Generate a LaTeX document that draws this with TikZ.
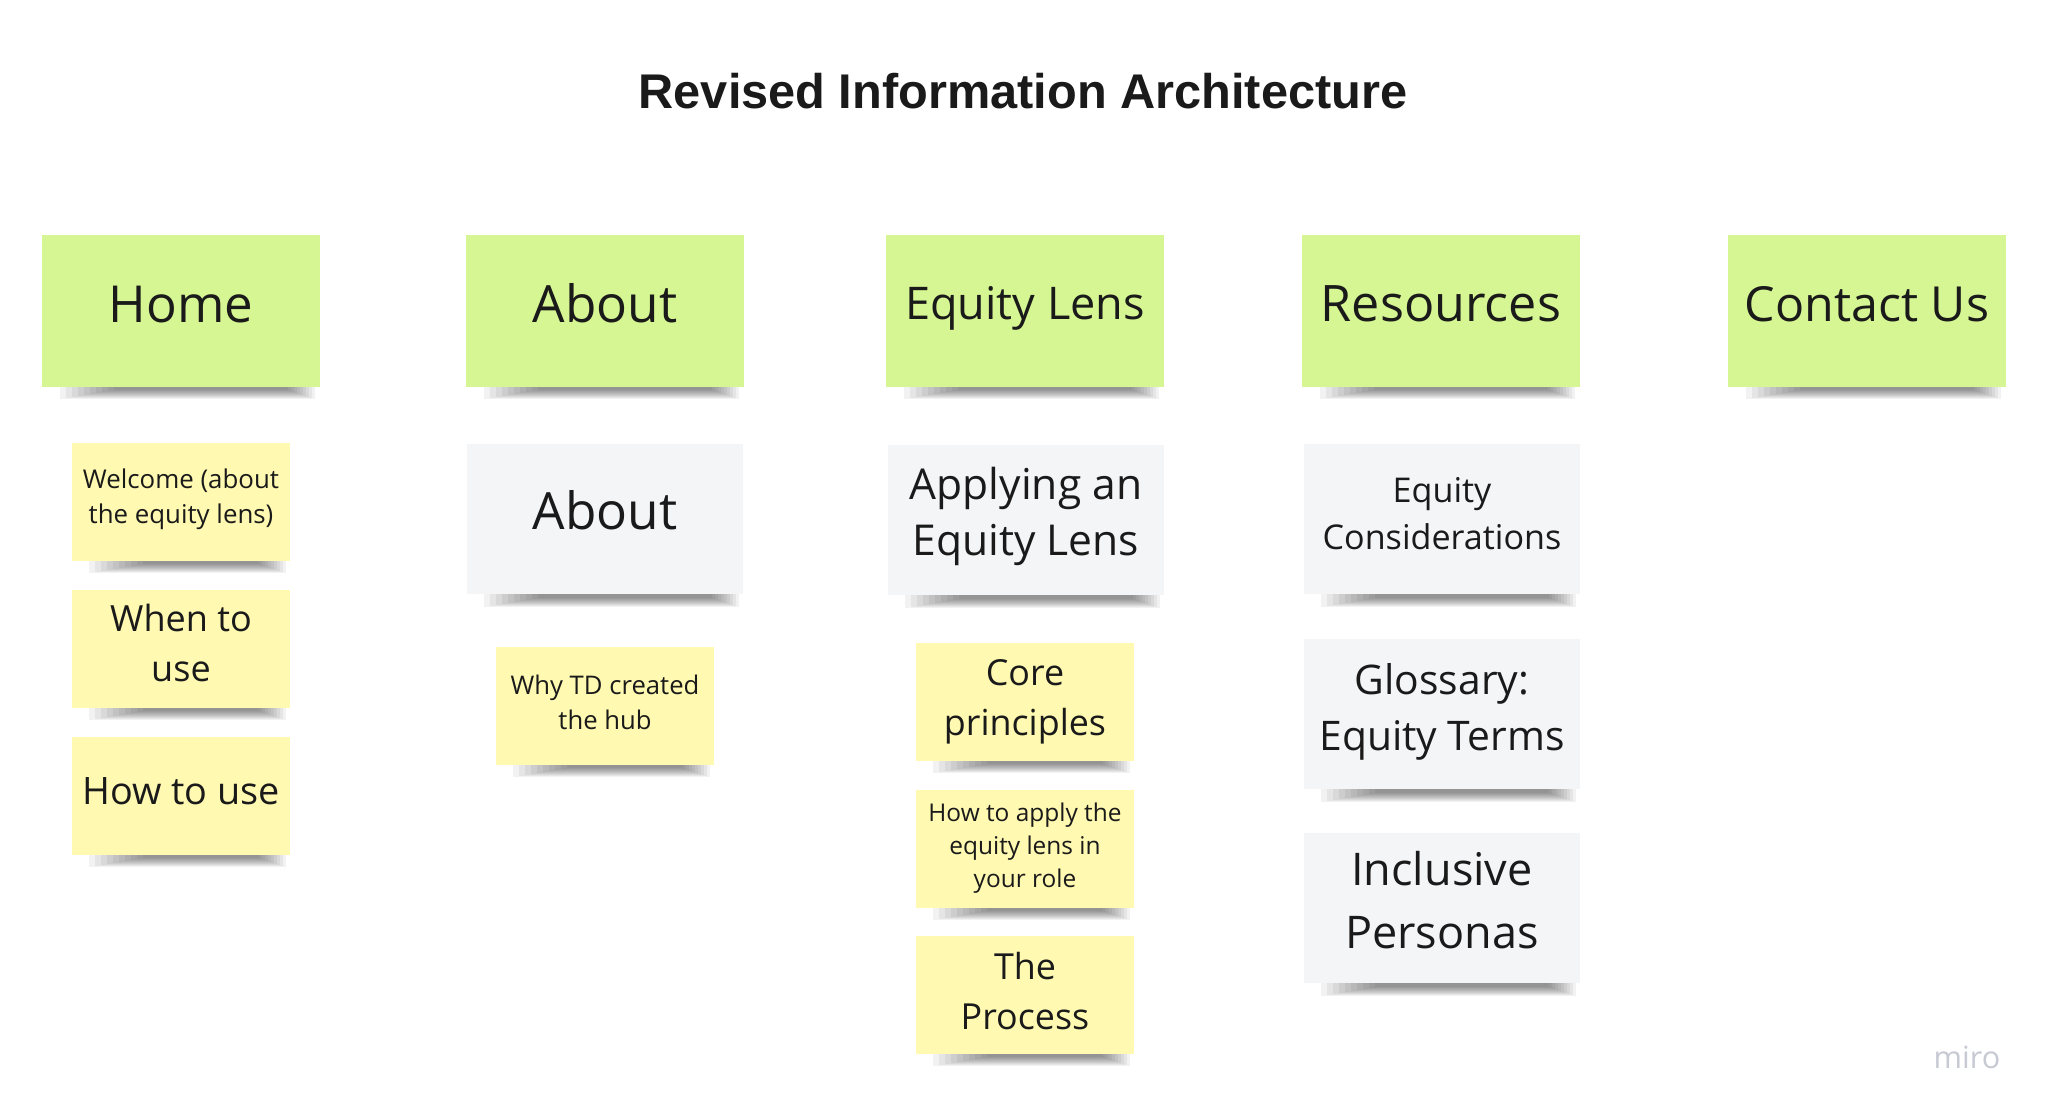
\documentclass[tikz,border=0pt]{standalone}
\usepackage{fontspec}
\setmainfont{Open Sans}
\newfontfamily\titlefont{Liberation Sans}
\usetikzlibrary{calc,backgrounds}
\definecolor{stickygreen}{HTML}{D5F692}
\definecolor{stickyyellow}{HTML}{FFF9B1}
\definecolor{stickygrey}{HTML}{F4F5F7}
\definecolor{ink}{HTML}{1A1A1A}
\definecolor{mirogrey}{HTML}{C7C9D3}
\newcommand\fsz[2]{\fontsize{#1}{#2}\selectfont}

\begin{document}
\begin{tikzpicture}[
    x=0.01cm, y=-0.01cm,
    headbox/.style={rectangle, fill=stickygreen, text=ink, align=center, inner sep=0pt, text depth=4pt, minimum width=2.77cm, minimum height=1.51cm},
    pagebox/.style={rectangle, fill=stickygrey, text=ink, align=center, inner sep=0pt, minimum width=2.76cm, minimum height=1.50cm},
    subbox/.style={rectangle, fill=stickyyellow, text=ink, align=center, inner sep=0pt, minimum width=2.18cm, minimum height=1.17cm}
]
\useasboundingbox (0,0) rectangle (2048,1116);

\node[font=\titlefont\bfseries\fsz{13.85}{16}, text=ink] (title) at (1023,91) {Revised Information Architecture};

\node[headbox, font=\fsz{14.5}{17}] (home) at (181,311) {Home};
\node[headbox, font=\fsz{14.6}{17}, text depth=4.5pt] (about) at (605,311) {About};
\node[headbox, font=\fsz{12.8}{15}, text depth=4.6pt] (lens) at (1025,311) {Equity Lens};
\node[headbox, font=\fsz{14.3}{17}] (res) at (1441,311) {Resources};
\node[headbox, font=\fsz{13.75}{16}] (contact) at (1867,311) {Contact Us};

\node[subbox, font=\fsz{7.35}{10}, text depth=3.3pt] (welcome) at (181,502) {Welcome (about\\the equity lens)};
\node[subbox, font=\fsz{10.25}{14.2}, text depth=3.7pt] (when) at (181,649) {When to\\use};
\node[subbox, font=\fsz{10.75}{14}, text depth=3pt] (howuse) at (181,796) {How to use};

\node[pagebox, font=\fsz{14.6}{17}, text depth=5.2pt] (aboutpg) at (605,519) {About};
\node[subbox, font=\fsz{7.3}{10}, text depth=2.2pt] (why) at (605,706) {Why TD created\\the hub};

\node[pagebox, font=\fsz{12.1}{15.9}, text depth=5.1pt] (apply) at (1026,520) {Applying an\\Equity Lens};
\node[subbox, font=\fsz{10.2}{14.2}] (core) at (1025,702) {Core\\principles};
\node[subbox, font=\fsz{6.95}{9.4}, text depth=2.4pt] (howapply) at (1025,849) {How to apply the\\equity lens in\\your role};
\node[subbox, font=\fsz{10.2}{14.2}, text depth=2.6pt] (process) at (1025,995) {The\\Process};

\node[pagebox, font=\fsz{9.7}{13.4}, text depth=3pt] (cons) at (1442,519) {Equity\\Considerations};
\node[pagebox, font=\fsz{11.6}{15.9}, text depth=4.2pt] (gloss) at (1442,714) {Glossary:\\Equity Terms};
\node[pagebox, font=\fsz{12.8}{17.9}, text depth=4.5pt] (personas) at (1442,908) {Inclusive\\Personas};

\node[font=\fsz{8.7}{10}, text=mirogrey] (miro) at (1967,1057) {miro};

\begin{scope}[on background layer]
\fill[white] (0,0) rectangle (2048,1116);
\foreach \n in {home,about,lens,res,contact,welcome,when,howuse,aboutpg,why,apply,core,howapply,process,cons,gloss,personas}{
  \foreach \k in {0,...,9}{
    \fill[black, opacity=.05] ($(\n.south west)+(18+6*\k,-30)$) rectangle ($(\n.south east)+(-5-3*\k,12-\k)$);
  }
}
\end{scope}
\end{tikzpicture}
\end{document}
